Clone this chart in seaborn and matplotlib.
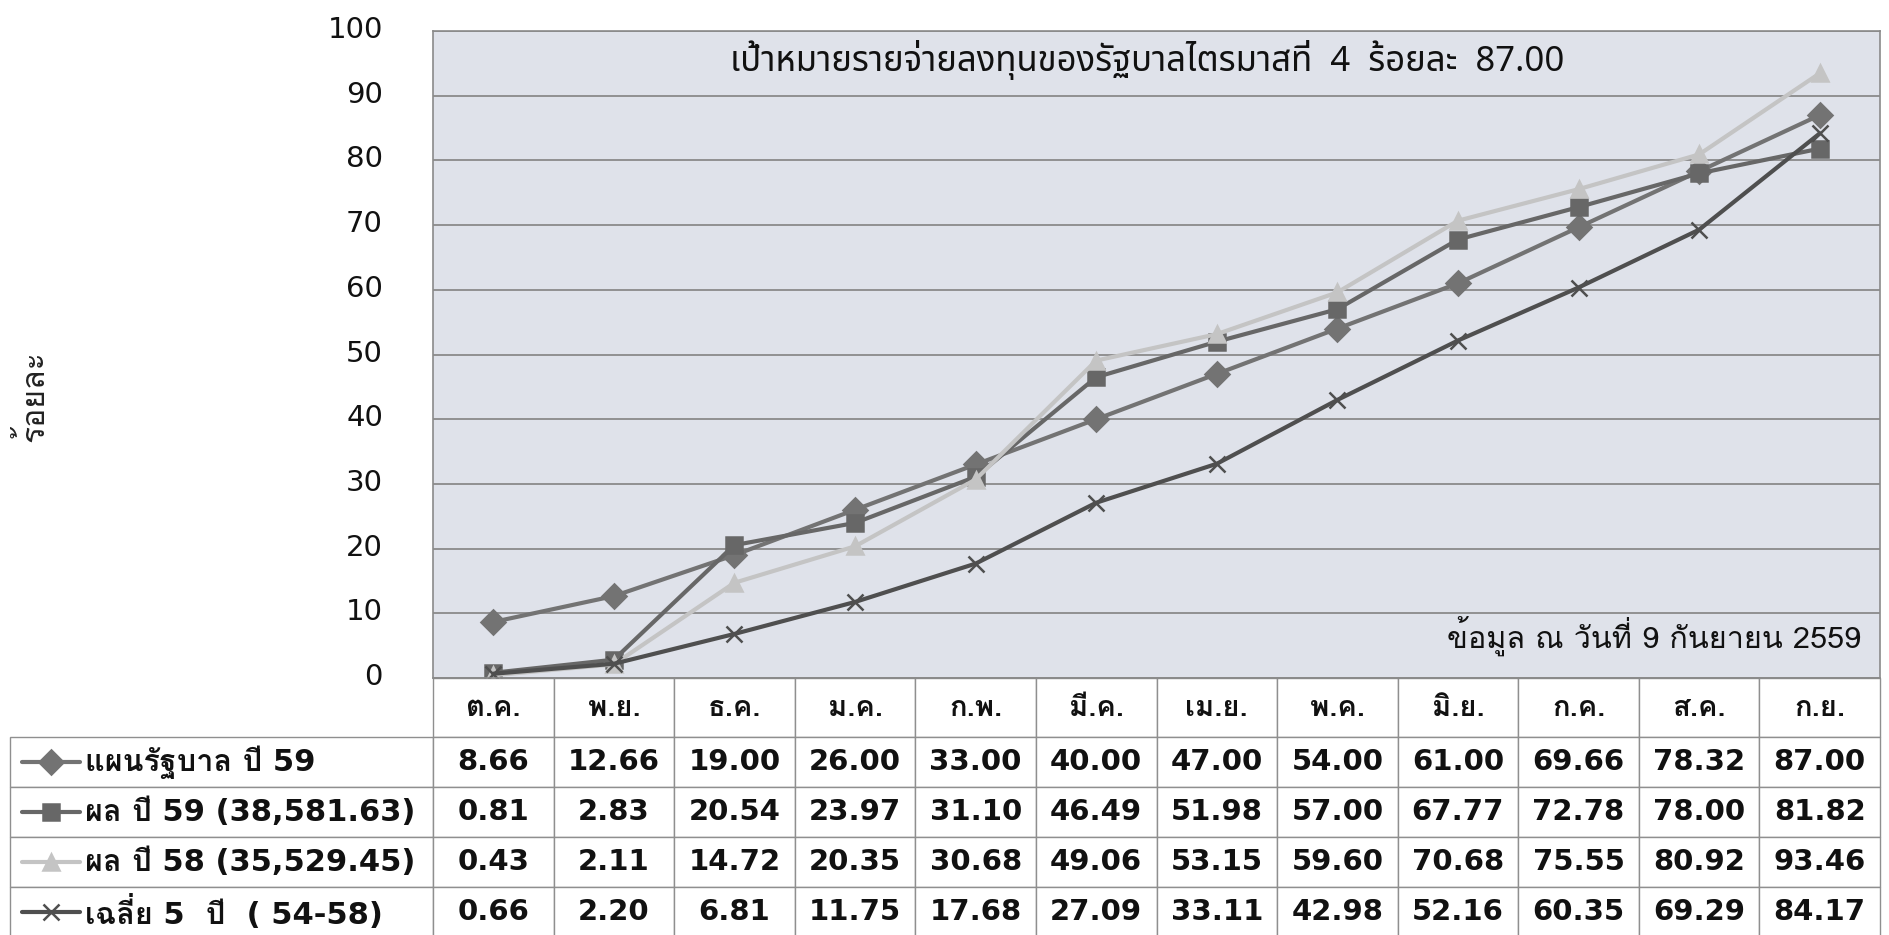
import matplotlib
matplotlib.use("Agg")
import matplotlib.pyplot as plt
from matplotlib.transforms import ScaledTranslation
import numpy as np
import pandas as pd
import seaborn as sns

months = ["ต.ค.", "พ.ย.", "ธ.ค.", "ม.ค.", "ก.พ.", "มี.ค.", "เม.ย.", "พ.ค.", "มิ.ย.", "ก.ค.", "ส.ค.", "ก.ย."]
series_names = ["แผนรัฐบาล ปี 59", "ผล ปี 59 (38,581.63)", "ผล ปี 58 (35,529.45)", "เฉลี่ย 5  ปี  ( 54-58)"]
plan_59 = [8.66, 12.66, 19.00, 26.00, 33.00, 40.00, 47.00, 54.00, 61.00, 69.66, 78.32, 87.00]
result_59 = [0.81, 2.83, 20.54, 23.97, 31.10, 46.49, 51.98, 57.00, 67.77, 72.78, 78.00, 81.82]
result_58 = [0.43, 2.11, 14.72, 20.35, 30.68, 49.06, 53.15, 59.60, 70.68, 75.55, 80.92, 93.46]
avg_5y = [0.66, 2.20, 6.81, 11.75, 17.68, 27.09, 33.11, 42.98, 52.16, 60.35, 69.29, 84.17]
y_ticks = list(range(0, 101, 10))
title_text = "เป้าหมายรายจ่ายลงทุนของรัฐบาลไตรมาสที่  4  ร้อยละ  87.00"
note_text = "ข้อมูล ณ วันที่ 9 กันยายน 2559"
y_label = "ร้อยละ"

values = [plan_59, result_59, result_58, avg_5y]
colors = ["#737373", "#676767", "#c4c4c4", "#4f4f4f"]
markers = ["D", "s", "^", "x"]

df = pd.DataFrame({
    "pos": np.tile(np.arange(len(months)), len(series_names)),
    "series": np.repeat(series_names, len(months)),
    "value": np.concatenate(values),
})

sns.set_theme(style="white")
plt.rcParams["font.family"] = ["DejaVu Sans", "Loma"]

W, H = 1889, 935
AX_L, AX_R, AX_T, AX_B = 433, 1880, 31, 678
AX_W, AX_H = AX_R - AX_L, AX_B - AX_T

fig = plt.figure(figsize=(W / 100, H / 100), dpi=100, facecolor="white")
ax = fig.add_axes([AX_L / W, 1 - AX_B / H, AX_W / W, AX_H / H])
ax.set_facecolor("#dfe2ea")


def ax_x(px):
    return (px - AX_L) / AX_W


def ax_y(py):
    return (AX_B - py) / AX_H


for name, color, mk in zip(series_names, colors, markers):
    sub = df[df["series"] == name]
    sns.lineplot(data=sub, x="pos", y="value", color=color, marker=mk,
                 linewidth=3, markersize=12, mec=color, mew=1.8, ax=ax)

ax.set_xlim(-0.5, len(months) - 0.5)
ax.set_ylim(0, 100)
ax.set_xticks([])
ax.set_yticks(y_ticks)
ax.set_xlabel("")
ax.set_ylabel(y_label, fontsize=23, color="#222222", family=["Loma", "DejaVu Sans"])
ax.yaxis.label.set_va("center")
ax.yaxis.set_label_coords(ax_x(33), ax_y(396))
ax.tick_params(axis="y", length=0, pad=36, labelsize=21, labelcolor="#111111")
# tick labels sit a few px above their gridlines in the reference
for lab in ax.get_yticklabels():
    lab.set_transform(lab.get_transform() + ScaledTranslation(0, 0.04, fig.dpi_scale_trans))
ax.yaxis.grid(True, color="#8a8a8a", linewidth=1.3)
ax.set_axisbelow(True)
for side in ["left", "right", "top", "bottom"]:
    ax.spines[side].set_color("#8a8a8a")
    ax.spines[side].set_linewidth(1.2)

ax.text(ax_x(1147), ax_y(60), title_text, ha="center", va="center", transform=ax.transAxes,
        fontsize=25, family=["Noto Sans Thai", "DejaVu Sans"], fontstretch="condensed", color="#111111")
ax.text(ax_x(1861), ax_y(648), note_text, ha="right", va="baseline", transform=ax.transAxes,
        fontsize=22, family=["Loma", "DejaVu Sans"], color="#111111")

# data table under the plot
LBL_L = 10
HEAD_H, ROW_H = 59, 50
TAB_B = AX_B + HEAD_H + ROW_H * len(series_names)
cells = [[""] + [f"{v:.2f}" for v in vals] for vals in values]
col_w = [AX_L - LBL_L] + [AX_W / len(months)] * len(months)
table = ax.table(cellText=cells, colLabels=[""] + months, colWidths=col_w, cellLoc="center",
                 bbox=[ax_x(LBL_L), ax_y(TAB_B), ax_x(AX_R) - ax_x(LBL_L), ax_y(AX_B) - ax_y(TAB_B)])
table.auto_set_font_size(False)
for (r, c), cell in table.get_celld().items():
    cell.set_edgecolor("#8f8f8f")
    cell.set_linewidth(1.0)
    cell.set_facecolor("white")
    cell.set_height(HEAD_H if r == 0 else ROW_H)
    txt = cell.get_text()
    txt.set_fontweight("bold")
    txt.set_color("#111111")
    txt.set_fontsize(21)
    if r == 0:
        txt.set_family(["Loma", "DejaVu Sans"])
    if r == 0 and c == 0:
        cell.visible_edges = ""
        cell.set_facecolor("none")

# row labels with legend keys
for i, (name, color, mk) in enumerate(zip(series_names, colors, markers)):
    yc = ax_y(AX_B + HEAD_H + ROW_H * (i + 0.5))
    ax.plot([ax_x(22), ax_x(80)], [yc, yc], color=color, lw=3, transform=ax.transAxes, clip_on=False)
    ax.plot([ax_x(51)], [yc], marker=mk, color=color, mec=color, mew=1.8, ms=12,
            transform=ax.transAxes, clip_on=False)
    ax.text(ax_x(85), yc, name, ha="left", va="center", fontsize=22, fontweight="bold",
            color="#111111", transform=ax.transAxes)

fig.savefig("out.png", dpi=100)
